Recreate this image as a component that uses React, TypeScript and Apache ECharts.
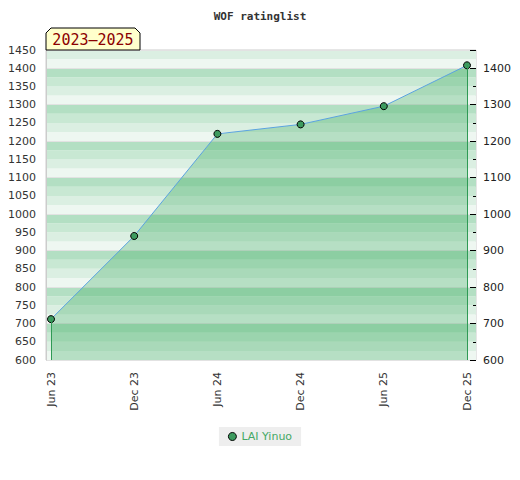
import React, { useEffect, useRef } from "react";
import * as echarts from "echarts";

const categories = ["Jun 23", "Dec 23", "Jun 24", "Dec 24", "Jun 25", "Dec 25"];
const ratings = [712, 940, 1220, 1246, 1296, 1408];
const seriesName = "LAI Yinuo";
const titleText = "WOF ratinglist";
const periodText = "2023–2025";
const yMin = 600;
const yMax = 1450;
const leftStep = 50;
const rightStep = 100;
const stripeStep = 25;
const stripeColors = ["#eef7f1", "#dbefe2", "#c8e8d3", "#b3dfc3"];

export default function App() {
  const ref = useRef<HTMLDivElement>(null);
  useEffect(() => {
    if (!ref.current) return;
    const chart = echarts.init(ref.current, undefined, { renderer: "svg" });
    const last = ratings.length - 1;
    const font = "DejaVu Sans";
    chart.setOption({
      animation: false,
      backgroundColor: "#ffffff",
      title: {
        text: titleText,
        left: "center",
        top: 6,
        textStyle: {
          fontFamily: "DejaVu Sans Mono",
          fontWeight: "bold",
          fontSize: 11,
          color: "#333",
        },
      },
      grid: [
        {
          left: 46,
          right: 44,
          top: 50,
          bottom: 120,
          show: true,
          borderColor: "#cccccc",
          borderWidth: 1,
          backgroundColor: "transparent",
        },
        { left: 51, right: 53, top: 50, bottom: 120 },
      ],
      xAxis: [
        { type: "value", gridIndex: 0, min: 0, max: 1, show: false },
        {
          type: "category",
          gridIndex: 1,
          data: categories,
          boundaryGap: false,
          axisLine: { show: false },
          axisTick: { show: false },
          splitLine: { show: false },
          axisLabel: {
            rotate: 90,
            margin: 12,
            fontFamily: font,
            fontSize: 11,
            color: "#333",
            interval: 0,
          },
        },
      ],
      yAxis: [
        {
          type: "value",
          gridIndex: 0,
          min: yMin,
          max: yMax,
          interval: stripeStep,
          position: "left",
          axisLine: { show: true, lineStyle: { color: "#cccccc" } },
          axisTick: { show: false },
          splitLine: { show: false },
          splitArea: { show: true, areaStyle: { color: stripeColors } },
          axisLabel: {
            margin: 10,
            fontFamily: font,
            fontSize: 11,
            color: "#333",
            formatter: (v: number) => (v % leftStep === 0 ? String(v) : ""),
          },
        },
        {
          type: "value",
          gridIndex: 0,
          min: yMin,
          max: yMax,
          interval: rightStep,
          position: "right",
          axisLine: { show: false },
          axisTick: { show: true, inside: true, length: 6, lineStyle: { color: "#000" } },
          minorTick: { show: true, splitNumber: 2, length: 3, lineStyle: { color: "#000" } },
          splitLine: { show: true, lineStyle: { color: "#e2e2e2", width: 1 } },
          axisLabel: {
            margin: 7,
            fontFamily: font,
            fontSize: 11,
            color: "#222",
            showMaxLabel: false,
            formatter: (v: number) => String(v),
          },
        },
        {
          type: "value",
          gridIndex: 1,
          min: yMin,
          max: yMax,
          show: false,
          splitLine: { show: false },
        },
      ],
      legend: {
        bottom: 34,
        left: "center",
        backgroundColor: "#eeeeee",
        padding: [4, 9],
        itemWidth: 8,
        itemHeight: 8,
        icon: "circle",
        textStyle: { fontFamily: font, fontSize: 11, color: "#45a865" },
        data: [
          {
            name: seriesName,
            itemStyle: { color: "#3d9b5f", borderColor: "#000", borderWidth: 1 },
          },
        ],
      },
      series: [
        {
          name: seriesName,
          type: "line",
          xAxisIndex: 1,
          yAxisIndex: 2,
          data: ratings,
          clip: false,
          symbol: "circle",
          symbolSize: 7,
          itemStyle: { color: "#3d9b5f", borderColor: "#000", borderWidth: 1 },
          lineStyle: { color: "#5ba3e0", width: 1 },
          areaStyle: { color: "rgba(40,160,80,0.40)", origin: "start" },
          z: 3,
          markLine: {
            silent: true,
            symbol: "none",
            label: { show: false },
            lineStyle: { color: "#2f9a55", width: 1, type: "solid" },
            data: [
              [
                { coord: [0, ratings[0]] },
                { coord: [0, yMin] },
              ],
              [
                { coord: [last, ratings[last]] },
                { coord: [last, yMin] },
              ],
            ],
          },
        },
      ],
      graphic: [
        {
          type: "polygon",
          shape: {
            points: [
              [46, 50],
              [46, 33],
              [51, 28],
              [135, 28],
              [140, 33],
              [140, 50],
            ],
          },
          style: { fill: "#ffffcc", stroke: "#000", lineWidth: 1 },
          z: 10,
        },
        {
          type: "text",
          x: 93,
          y: 40,
          style: {
            text: periodText,
            fill: "#8b0000",
            font: "15px 'DejaVu Sans Mono'",
            align: "center",
            verticalAlign: "middle",
          },
          z: 11,
        },
      ],
    });
    return () => chart.dispose();
  }, []);
  return (
    <div
      ref={ref}
      style={{ position: "fixed", left: 0, top: 0, width: 520, height: 480 }}
    />
  );
}
